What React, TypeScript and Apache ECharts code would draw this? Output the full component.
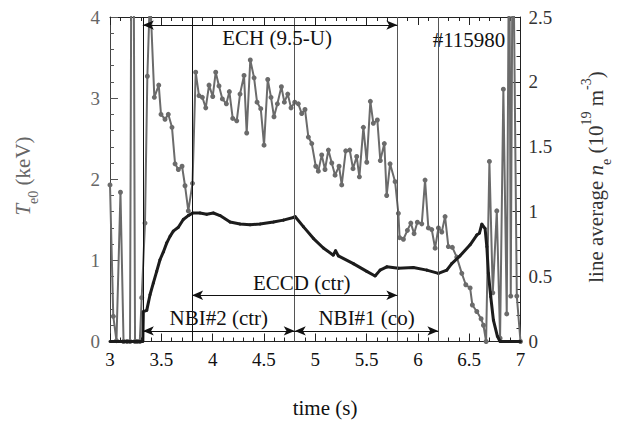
import React, { useEffect, useRef } from 'react';
import * as echarts from 'echarts';

const FONT = '"Liberation Serif", "Times New Roman", serif';

// Central electron temperature Te0 (keV) — gray line with dots
const teTime = [3.0, 3.032, 3.063, 3.102, 3.132, 3.166, 3.195, 3.219, 3.244, 3.263, 3.29, 3.309, 3.341, 3.364, 3.39, 3.432, 3.475, 3.497, 3.536, 3.568, 3.604, 3.634, 3.666, 3.702, 3.731, 3.763, 3.804, 3.835, 3.867, 3.9, 3.933, 3.965, 4.001, 4.03, 4.062, 4.095, 4.134, 4.163, 4.196, 4.235, 4.267, 4.306, 4.332, 4.367, 4.404, 4.433, 4.469, 4.501, 4.537, 4.569, 4.598, 4.631, 4.67, 4.699, 4.732, 4.764, 4.8, 4.835, 4.868, 4.9, 4.933, 4.966, 5.005, 5.03, 5.063, 5.095, 5.128, 5.161, 5.193, 5.232, 5.258, 5.297, 5.336, 5.368, 5.404, 5.43, 5.469, 5.502, 5.537, 5.566, 5.605, 5.634, 5.673, 5.696, 5.729, 5.778, 5.81, 5.822, 5.859, 5.898, 5.931, 5.963, 5.995, 6.038, 6.07, 6.102, 6.135, 6.168, 6.2, 6.233, 6.265, 6.297, 6.336, 6.379, 6.428, 6.467, 6.509, 6.531, 6.574, 6.616, 6.639, 6.665, 6.697, 6.73, 6.769, 6.801, 6.833, 6.866, 6.89, 6.905, 6.925, 6.964, 7.0];
const teValue = [1.93, 0.31, 0.01, 1.84, 0, 0, 0, 9, 0, 0, 0, 0.54, 1.46, 3.27, 4.3, 3.01, 3.16, 2.8, 2.74, 2.8, 2.64, 2.19, 2.12, 2.16, 1.92, 1.61, 1.95, 3.32, 3.03, 3.01, 2.88, 3.16, 3.02, 3.32, 3.15, 2.99, 2.93, 3.08, 2.75, 2.72, 3.05, 3.28, 2.57, 3.47, 3.25, 2.95, 2.87, 2.42, 3.23, 3.01, 2.77, 2.93, 3.14, 2.95, 3.05, 2.88, 2.95, 2.93, 2.81, 2.86, 2.52, 2.44, 2.16, 2.1, 2.3, 2.12, 2.36, 2.2, 2.05, 2.16, 1.93, 2.35, 2.36, 2.13, 2.28, 2.03, 2.64, 2.21, 2.96, 2.69, 2.73, 2.23, 2.44, 1.8, 2.19, 1.97, 1.58, 1.28, 1.26, 1.37, 1.46, 1.33, 1.47, 1.45, 1.99, 1.4, 1.38, 1.15, 1.4, 1.35, 1.54, 1.17, 1.16, 1.04, 0.84, 0.7, 0.66, 0.45, 0.37, 0.28, 0.2, 0, 2.22, 0.6, 1.61, 0.04, 3.11, 0.34, 5.5, 0.56, 5.5, 0.56, 0];

// Line-averaged electron density ne (1e19 m^-3) — black line
const neTime = [3.0, 3.1, 3.2, 3.3, 3.32, 3.325, 3.358, 3.39, 3.422, 3.455, 3.487, 3.52, 3.553, 3.585, 3.617, 3.666, 3.714, 3.763, 3.806, 3.877, 3.942, 4.007, 4.072, 4.17, 4.267, 4.365, 4.462, 4.592, 4.689, 4.787, 4.803, 4.884, 4.981, 5.079, 5.176, 5.198, 5.225, 5.371, 5.502, 5.583, 5.632, 5.697, 5.81, 5.956, 6.087, 6.2, 6.282, 6.33, 6.411, 6.509, 6.574, 6.6, 6.623, 6.655, 6.672, 6.687, 6.71, 6.736, 6.775, 6.801, 6.9, 7.0];
const neValue = [0, 0, 0, 0, 0, 0.23, 0.24, 0.36, 0.45, 0.54, 0.63, 0.69, 0.76, 0.81, 0.85, 0.88, 0.94, 0.97, 0.99, 0.99, 0.98, 0.99, 0.97, 0.92, 0.905, 0.9, 0.905, 0.92, 0.935, 0.955, 0.963, 0.885, 0.795, 0.72, 0.665, 0.7, 0.66, 0.6, 0.54, 0.505, 0.55, 0.575, 0.565, 0.57, 0.55, 0.525, 0.55, 0.6, 0.66, 0.745, 0.82, 0.835, 0.905, 0.87, 0.73, 0.525, 0.345, 0.165, 0.04, 0, 0, 0];

// Event markers (s)
const eventTimes = [3.32, 3.8, 4.8, 5.8, 6.2];
const eventColors = ['#111', '#111', '#555', '#555', '#555'];

// Heating-period arrows
const arrowLabels = ['ECH (9.5-U)', 'ECCD (ctr)', 'NBI#2 (ctr)', 'NBI#1 (co)'];
const arrowStarts = [3.32, 3.8, 3.32, 4.8];
const arrowEnds = [5.8, 5.8, 4.8, 6.2];
const arrowLevels = [3.9, 0.57, 0.13, 0.13]; // in keV (left axis units)
const arrowLabelSide = ['insideMiddleBottom', 'insideMiddleTop', 'insideMiddleTop', 'insideMiddleTop'];
const arrowLabelShift = [7, 7, 0, 0];

const shotLabel = '#115980';

export default function App() {
  const ref = useRef<HTMLDivElement>(null);
  useEffect(() => {
    if (!ref.current) return;
    const chart = echarts.init(ref.current, undefined, { renderer: 'svg' });
    const axisCommonX = {
      type: 'value',
      min: 3,
      max: 7,
      interval: 0.5,
      axisLine: { show: true, onZero: false, lineStyle: { color: '#222', width: 1 } },
      axisTick: { show: true, inside: true, length: 8, lineStyle: { color: '#222' } },
      minorTick: { show: true, splitNumber: 5, length: 4, lineStyle: { color: '#222' } },
      splitLine: { show: false },
    };
    const option: any = {
      animation: false,
      backgroundColor: '#fff',
      grid: { left: 110, right: 98.5, top: 17, bottom: 81.5, containLabel: false },
      xAxis: [
        {
          ...axisCommonX,
          position: 'bottom',
          axisLabel: { color: '#111', fontSize: 19, fontFamily: FONT, margin: 8 },
        },
        {
          ...axisCommonX,
          position: 'top',
          axisLabel: { show: false },
        },
      ],
      yAxis: [
        {
          type: 'value',
          min: 0,
          max: 4,
          interval: 1,
          position: 'left',
          axisLine: { show: true, onZero: false, lineStyle: { color: '#444' } },
          axisTick: { show: true, inside: true, length: 8, lineStyle: { color: '#555' } },
          minorTick: { show: true, splitNumber: 5, length: 4, lineStyle: { color: '#555' } },
          axisLabel: { color: '#666', fontSize: 19, fontFamily: FONT, margin: 10 },
          splitLine: { show: false },
        },
        {
          type: 'value',
          min: 0,
          max: 2.5,
          interval: 0.5,
          position: 'right',
          axisLine: { show: true, onZero: false, lineStyle: { color: '#222' } },
          axisTick: { show: true, inside: true, length: 8, lineStyle: { color: '#222' } },
          minorTick: { show: true, splitNumber: 5, length: 4, lineStyle: { color: '#222' } },
          axisLabel: { color: '#333', fontSize: 19, fontFamily: FONT, margin: 8 },
          splitLine: { show: false },
        },
      ],
      series: [
        {
          type: 'line',
          xAxisIndex: 0,
          yAxisIndex: 0,
          data: [],
          silent: true,
          markLine: {
            silent: true,
            symbol: 'none',
            animation: false,
            label: { show: false },
            data: eventTimes.map((t, i) => ({
              xAxis: t,
              lineStyle: { color: eventColors[i], width: 1, type: 'solid' },
            })),
          },
        },
        {
          type: 'line',
          name: 'Te0',
          xAxisIndex: 0,
          yAxisIndex: 0,
          data: teTime.map((t, i) => [t, teValue[i]]),
          clip: true,
          symbol: 'circle',
          symbolSize: 5,
          showSymbol: true,
          lineStyle: { color: '#6b6b6b', width: 2 },
          itemStyle: { color: '#6b6b6b' },
          z: 3,
        },
        {
          type: 'line',
          name: 'ne',
          xAxisIndex: 0,
          yAxisIndex: 1,
          data: neTime.map((t, i) => [t, neValue[i]]),
          clip: true,
          symbol: 'circle',
          symbolSize: 3,
          showSymbol: true,
          lineStyle: { color: '#1c1c1c', width: 3 },
          itemStyle: { color: '#1c1c1c' },
          z: 4,
        },
        {
          type: 'line',
          xAxisIndex: 0,
          yAxisIndex: 0,
          data: [],
          silent: true,
          z: 5,
          markLine: {
            silent: true,
            animation: false,
            symbol: ['arrow', 'arrow'],
            symbolSize: [7, 11],
            lineStyle: { color: '#111', width: 1, type: 'solid' },
            data: arrowLabels.map((lab, i) => [
              {
                coord: [arrowStarts[i], arrowLevels[i]],
                label: {
                  show: true,
                  formatter: lab,
                  position: arrowLabelSide[i],
                  distance: 2,
                  offset: [arrowLabelShift[i], 0],
                  color: '#111',
                  fontSize: 21,
                  fontFamily: FONT,
                },
              },
              { coord: [arrowEnds[i], arrowLevels[i]] },
            ]),
          },
        },
      ],
      graphic: [
        {
          type: 'text',
          x: 469,
          y: 40,
          style: {
            text: shotLabel,
            fill: '#111',
            fontSize: 21,
            fontFamily: FONT,
            align: 'center',
            verticalAlign: 'middle',
          },
        },
        {
          type: 'text',
          x: 325,
          y: 408,
          style: {
            text: 'time (s)',
            fill: '#111',
            fontSize: 21,
            fontFamily: FONT,
            align: 'center',
            verticalAlign: 'middle',
          },
        },
        {
          type: 'text',
          x: 23,
          y: 176,
          rotation: Math.PI / 2,
          style: {
            text: '{i|T}{s|e0}{n| (keV)}',
            align: 'center',
            verticalAlign: 'middle',
            rich: {
              n: { fill: '#666', fontSize: 21, fontFamily: FONT, lineHeight: 34 },
              i: { fill: '#666', fontSize: 21, fontFamily: FONT, fontStyle: 'italic', lineHeight: 34 },
              s: { fill: '#666', fontSize: 14, fontFamily: FONT, lineHeight: 20, verticalAlign: 'bottom' },
            },
          },
        },
        {
          type: 'text',
          x: 596,
          y: 177,
          rotation: Math.PI / 2,
          style: {
            text: '{n|line average }{i|n}{s|e}{n| (10}{p|19}{n| m}{p|-3}{n|)}',
            align: 'center',
            verticalAlign: 'middle',
            rich: {
              n: { fill: '#333', fontSize: 21, fontFamily: FONT, lineHeight: 34 },
              i: { fill: '#333', fontSize: 21, fontFamily: FONT, fontStyle: 'italic', lineHeight: 34 },
              s: { fill: '#333', fontSize: 14, fontFamily: FONT, lineHeight: 20, verticalAlign: 'bottom' },
              p: { fill: '#333', fontSize: 14, fontFamily: FONT, lineHeight: 28, verticalAlign: 'top' },
            },
          },
        },
      ],
    };
    chart.setOption(option);
    return () => chart.dispose();
  }, []);
  return (
    <div
      ref={ref}
      style={{ position: 'fixed', left: 0, top: 0, width: 619, height: 423, background: '#fff' }}
    />
  );
}
